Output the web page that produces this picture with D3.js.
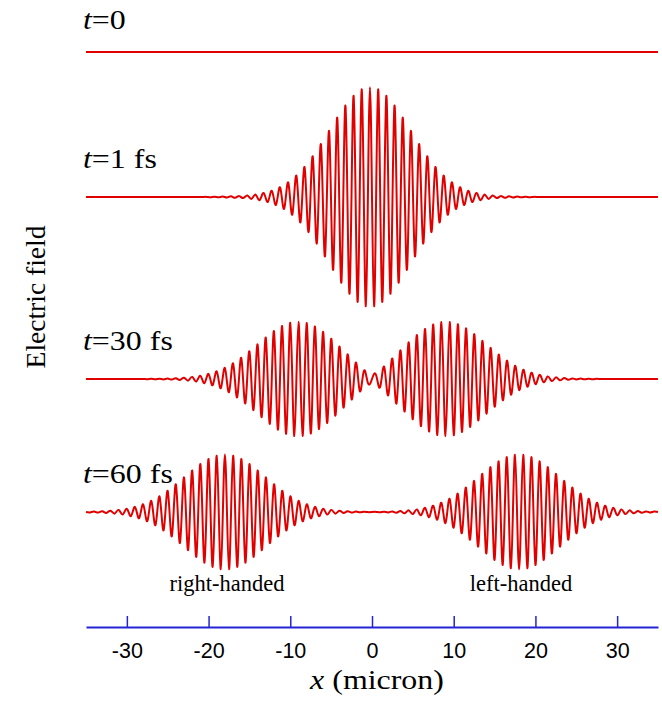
<!DOCTYPE html>
<html lang="en">
<head>
    <meta charset="UTF-8">
    <title>Electric field snapshots</title>
    <script src="https://d3js.org/d3.v7.min.js"></script>
    <style>
        body { margin: 0; background: #fff; }
        svg { display: block; }
    </style>
</head>
<body>
</body>
<script>
    // snapshot labels (time after start)
    const TIMES = ["0", "1 fs", "30 fs", "60 fs"];
    // packet centres in micron, and signed peak height (one packet = 1)
    const PACKET_CENTRES = [[], [-0.25], [-9, 9], [-18, 18]];
    const PACKET_AMPS = [[], [1.91], [1, -1], [1, -1]];
    // peak height of each half-cycle, going out from the packet centre in 0.5 micron steps
    const ENVELOPE = [1.000, 0.995, 0.980, 0.955, 0.921, 0.880, 0.832, 0.779, 0.721, 0.662,
        0.600, 0.539, 0.480, 0.422, 0.368, 0.317, 0.271, 0.229, 0.192, 0.160,
        0.132, 0.108, 0.088, 0.071, 0.056, 0.045, 0.036, 0.028, 0.022, 0.017,
        0.013, 0.010, 0.008, 0.007, 0.006, 0.005, 0.004, 0.003, 0.002, 0.002, 0.001];
    const HALF_PERIOD = 0.5;
    const X_TICKS = [-30, -20, -10, 0, 10, 20, 30];
    const HAND_LABELS = ["right-handed", "left-handed"];
    const HAND_X = [-18, 18];

    const WIDTH = 662, HEIGHT = 703;
    const ROW_Y = [52, 197, 379, 512];
    const LABEL_Y = [29, 168, 350, 483];
    const AXIS_Y = 627;
    const RED = "#e00000", BLUE = "#2424d6";
    const SERIF = "'Liberation Serif', 'Times New Roman', serif";

    let x = d3.scaleLinear().domain([-35, 35]).range([86, 658]);
    let y = d3.scaleLinear().domain([-1, 1]).range([57.5, -57.5]);

    function fieldAt(xv, row) {
        let sum = 0;
        PACKET_CENTRES[row].forEach((c, i) => {
            let k = Math.round((xv - c) / HALF_PERIOD);
            if (Math.abs(k) < ENVELOPE.length) {
                sum += PACKET_AMPS[row][i] * (k % 2 === 0 ? 1 : -1) * ENVELOPE[Math.abs(k)];
            }
        });
        return sum;
    }

    // extrema of the wave sit on a half-period grid lined up with the packet centre
    function rowPoints(row) {
        let c0 = PACKET_CENTRES[row].length ? PACKET_CENTRES[row][0] : 0;
        let [lo, hi] = x.domain();
        let pts = [[lo, 0]];
        let start = c0 - Math.floor((c0 - lo) / HALF_PERIOD) * HALF_PERIOD;
        for (let xv = start; xv <= hi + 1e-9; xv += HALF_PERIOD) {
            if (xv > lo + 1e-9 && xv < hi - 1e-9) pts.push([xv, fieldAt(xv, row)]);
        }
        pts.push([hi, 0]);
        return pts;
    }

    let svg = d3.select("body").append("svg").attr("width", WIDTH).attr("height", HEIGHT);
    svg.append("rect").attr("width", WIDTH).attr("height", HEIGHT).attr("fill", "#fff");

    let line = d3.line().x(d => x(d[0])).y(d => y(d[1])).curve(d3.curveNatural);

    TIMES.forEach((t, row) => {
        let g = svg.append("g").attr("transform", `translate(0,${ROW_Y[row]})`);
        g.append("path")
            .attr("d", line(rowPoints(row)))
            .attr("fill", "none")
            .attr("stroke", RED)
            .attr("stroke-width", 2)
            .attr("stroke-linejoin", "round");
    });

    // time labels
    TIMES.forEach((t, row) => {
        let txt = svg.append("text")
            .attr("transform", `translate(83,${LABEL_Y[row]}) scale(1.14,1)`)
            .attr("font-family", SERIF)
            .attr("font-size", 28).attr("fill", "#000");
        txt.append("tspan").attr("font-style", "italic").text("t");
        txt.append("tspan").text("=" + t);
    });

    // blue x axis, ticks pointing up
    let axis = d3.axisBottom(x).tickValues(X_TICKS).tickFormat(d => String(d))
        .tickSizeInner(-11).tickSizeOuter(0).tickPadding(0);
    let ax = svg.append("g").attr("transform", `translate(0,${AXIS_Y})`).call(axis);
    ax.select(".domain").attr("stroke", BLUE).attr("stroke-width", 2);
    ax.selectAll(".tick line").attr("stroke", BLUE).attr("stroke-width", 1.5);
    ax.selectAll(".tick text")
        .attr("y", 31).attr("dy", null)
        .attr("fill", "#000")
        .attr("font-family", "'Liberation Sans', Arial, sans-serif")
        .attr("font-size", 21.5);

    let xt = svg.append("text")
        .attr("transform", "translate(377,689) scale(1.14,1)")
        .attr("text-anchor", "middle")
        .attr("font-family", SERIF)
        .attr("font-size", 28);
    xt.append("tspan").attr("font-style", "italic").text("x");
    xt.append("tspan").text(" (micron)");

    svg.append("text")
        .attr("transform", "translate(45,297) rotate(-90)")
        .attr("text-anchor", "middle")
        .attr("font-family", SERIF)
        .attr("font-size", 27.5)
        .text("Electric field");

    HAND_LABELS.forEach((lab, i) => {
        svg.append("text")
            .attr("x", x(HAND_X[i]) + 2).attr("y", 591)
            .attr("text-anchor", "middle")
            .attr("font-family", SERIF)
            .attr("font-size", 22.5)
            .text(lab);
    });
</script>
</html>
